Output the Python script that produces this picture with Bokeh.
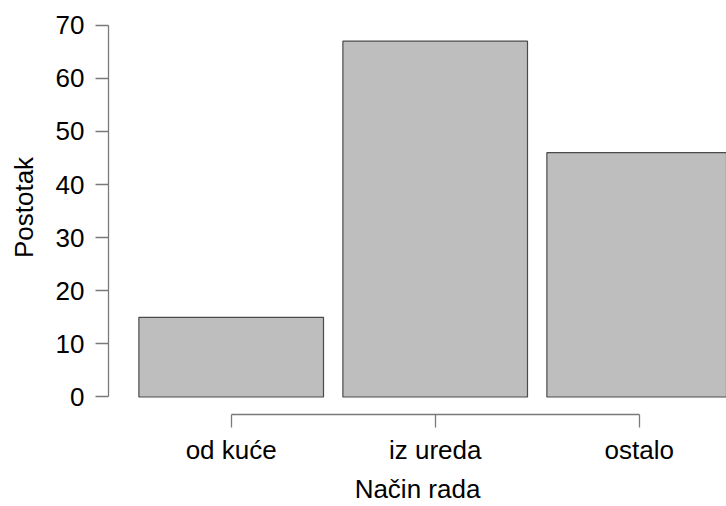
from bokeh.plotting import figure
from bokeh.models import Range1d, FixedTicker, ColumnDataSource
from bokeh.embed import file_html
from bokeh.resources import INLINE

categories = ["od kuće", "iz ureda", "ostalo"]
values = [15, 67, 46]
y_ticks = [0, 10, 20, 30, 40, 50, 60, 70]
x_label = "Način rada"
y_label = "Postotak"

xs = [i + 1 for i in range(len(categories))]
src = ColumnDataSource(dict(x=xs, top=values, cat=categories))

FONT = "Liberation Sans"
FS = "26px"

p = figure(width=726, height=506, output_backend="svg", toolbar_location=None,
           x_range=Range1d(0.3985, 3.428), y_range=Range1d(-3.295, 74.655),
           min_border_left=108, min_border_right=0, min_border_top=0,
           min_border_bottom=92)
p.outline_line_color = None
p.grid.visible = False
p.background_fill_color = "white"
p.border_fill_color = "white"

p.vbar(x="x", top="top", bottom=0, width=0.905, source=src,
       fill_color="#bebebe", line_color="#4a4a4a", line_width=1.2)

# y axis
ya = p.yaxis[0]
ya.ticker = FixedTicker(ticks=y_ticks)
ya.bounds = (y_ticks[0], y_ticks[-1])
ya.axis_line_color = "#7a7a7a"
ya.axis_line_width = 1.3
ya.major_tick_line_color = "#7a7a7a"
ya.major_tick_line_width = 1.3
ya.major_tick_out = 13
ya.major_tick_in = 0
ya.minor_tick_line_color = None
ya.major_label_standoff = 11
ya.major_label_text_font = FONT
ya.major_label_text_font_size = FS
ya.major_label_text_color = "black"
ya.major_label_orientation = "horizontal"
ya.axis_label = y_label
ya.axis_label_text_font = FONT
ya.axis_label_text_font_size = FS
ya.axis_label_text_font_style = "normal"
ya.axis_label_text_color = "black"
ya.axis_label_standoff = 14

# x axis
xa = p.xaxis[0]
xa.ticker = FixedTicker(ticks=xs)
xa.major_label_overrides = {x: c for x, c in zip(xs, categories)}
xa.bounds = (xs[0], xs[-1])
xa.axis_line_color = "#7a7a7a"
xa.axis_line_width = 1.3
xa.major_tick_line_color = "#7a7a7a"
xa.major_tick_line_width = 1.3
xa.major_tick_out = 13
xa.major_tick_in = 0
xa.minor_tick_line_color = None
xa.major_label_standoff = 7
xa.major_label_text_font = FONT
xa.major_label_text_font_size = FS
xa.major_label_text_color = "black"
xa.axis_label = x_label
xa.axis_label_text_font = FONT
xa.axis_label_text_font_size = FS
xa.axis_label_text_font_style = "normal"
xa.axis_label_text_color = "black"
xa.axis_label_standoff = 6

open("out.html", "w").write(file_html(p, INLINE))
